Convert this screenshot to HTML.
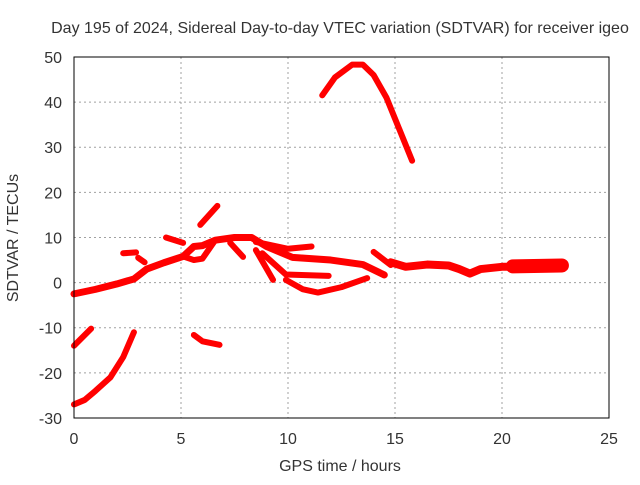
<!DOCTYPE html>
<html><head><meta charset="utf-8"><style>
body{margin:0;background:#fff}
svg text{font-family:"Liberation Sans",sans-serif;font-size:16px;fill:#333}
</style></head><body>
<svg id="c" width="640" height="480">
<text x="340" y="33" text-anchor="middle">Day 195 of 2024, Sidereal Day-to-day VTEC variation (SDTVAR) for receiver igeo</text>
<text x="340" y="471" text-anchor="middle">GPS time / hours</text>
<text transform="translate(18,238) rotate(-90)" text-anchor="middle">SDTVAR / TECUs</text>
<g id="grid"></g><g id="marks"></g>
<rect x="74" y="57" width="535" height="361" fill="none" stroke="#000" stroke-width="1"/>
</svg>
<script>
const xTicks=[0,5,10,15,20,25];
const yTicks=[-30,-20,-10,0,10,20,30,40,50];
const trackMain=[[0,-2.5],[1,-1.5],[2,-0.3],[2.8,0.8],[3.4,3],[4.2,4.4],[5.1,5.8],[5.6,8],[6,8.2],[6.6,9.4],[7.5,10],[8.3,10],[9,8],[10.2,5.6],[12,5],[13.5,4],[14.5,1.7]];
const trackLoopLow=[[5.1,5.8],[5.6,5],[6,5.3],[6.6,9.4]];
const trackBranch1=[[8.5,9],[10,7.5],[11.1,8]];
const trackBranch2=[[7.3,8.8],[7.9,5.7]];
const trackBranch3=[[8.5,7.2],[9.3,0.6]];
const trackBranch4=[[8.8,6.5],[9.9,1.8],[11.9,1.5]];
const trackArcLow=[[9.9,0.6],[10.7,-1.5],[11.4,-2.2],[12.5,-1],[13.7,1]];
const trackIso1=[[4.3,10],[5.1,8.8]];
const trackIso2=[[2.3,6.5],[2.9,6.7]];
const trackIso3=[[3.0,5.5],[3.3,4.5]];
const trackIso4=[[5.9,12.8],[6.7,17]];
const trackIso5=[[14.0,6.8],[14.8,3.9]];
const trackNeg1=[[0,-14],[0.8,-10.2]];
const trackNeg2=[[0,-27],[0.5,-26],[1,-24],[1.7,-21],[2.3,-16.5],[2.8,-11]];
const trackNeg3=[[5.6,-11.6],[6,-13],[6.8,-13.8]];
const trackTop=[[11.6,41.5],[12.2,45.5],[13,48.3],[13.5,48.3],[14,46],[14.6,41],[15.2,34],[15.8,27]];
const trackRight=[[14.8,4.5],[15.5,3.5],[16.5,4],[17.5,3.8],[18,3],[18.5,2],[19,3],[20,3.5],[21,3.5],[22,3.5],[22.8,4]];
const trackRightWide=[[20.5,3.6],[22.8,3.8]];
const X=v=>74+v*21.4, Y=v=>282.6-v*4.5125;
const NS="http://www.w3.org/2000/svg";
const g=document.getElementById('grid'), m=document.getElementById('marks');
xTicks.forEach(t=>{
 if(t>0&&t<25){const l=document.createElementNS(NS,'line');l.setAttribute('x1',X(t));l.setAttribute('x2',X(t));l.setAttribute('y1',57);l.setAttribute('y2',418);l.setAttribute('stroke','#a0a0a0');l.setAttribute('stroke-dasharray','2,3');
 
 g.appendChild(l);}
 const s=document.createElementNS(NS,'text');s.setAttribute('x',X(t));s.setAttribute('y',444);s.setAttribute('text-anchor','middle');s.textContent=t;
 
 g.appendChild(s);
});
yTicks.forEach(t=>{
 if(t>-30&&t<50){const l=document.createElementNS(NS,'line');l.setAttribute('x1',74);l.setAttribute('x2',609);l.setAttribute('y1',Y(t));l.setAttribute('y2',Y(t));l.setAttribute('stroke','#a0a0a0');l.setAttribute('stroke-dasharray','2,3');
 
 g.appendChild(l);}
 const s=document.createElementNS(NS,'text');s.setAttribute('x',62);s.setAttribute('y',Y(t)+6);s.setAttribute('text-anchor','end');s.textContent=t;
 
 g.appendChild(s);
});
function draw(pts,w,name){
 const p=document.createElementNS(NS,'polyline');
 p.setAttribute('points',pts.map(d=>X(d[0])+','+Y(d[1])).join(' '));
 p.setAttribute('fill','none');p.setAttribute('stroke','#ff0000');p.setAttribute('stroke-width',w);p.setAttribute('stroke-linejoin','round');p.setAttribute('stroke-linecap','round');
 
 
 m.appendChild(p);
}
[[trackMain,7],[trackLoopLow,6],[trackBranch1,6],[trackBranch2,6],[trackBranch3,6],[trackBranch4,6],[trackArcLow,6],[trackIso1,6],[trackIso2,6],[trackIso3,6],[trackIso4,6],[trackIso5,6],[trackNeg1,6],[trackNeg2,6],[trackNeg3,6],[trackTop,6],[trackRight,8],[trackRightWide,14]].forEach((a,i)=>draw(a[0],a[1],'sdtvar-track-'+i));
</script>
</body></html>
